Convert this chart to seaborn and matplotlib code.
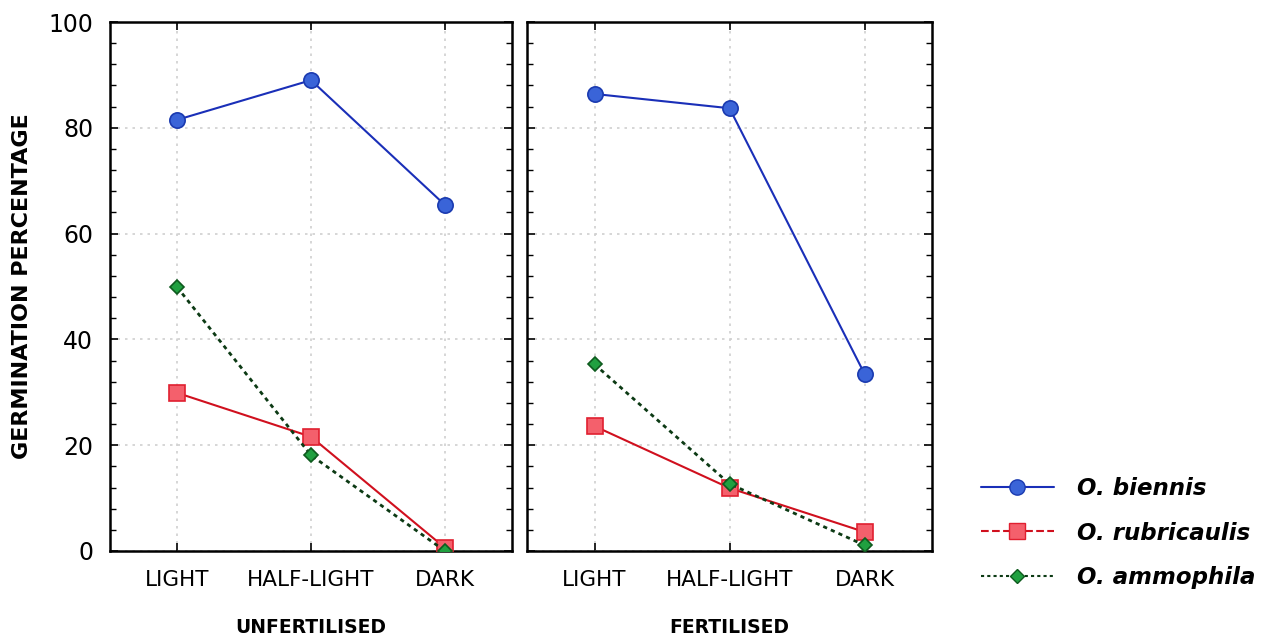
import numpy as np
import pandas as pd
import matplotlib
matplotlib.use('Agg')
import matplotlib.pyplot as plt
import seaborn as sns
from matplotlib.lines import Line2D
from matplotlib.ticker import MultipleLocator

sns.set_style('white')
plt.rcParams['font.family'] = ['DejaVu Sans']
plt.rcParams['text.color'] = 'black'
plt.rcParams['axes.labelcolor'] = 'black'
plt.rcParams['xtick.color'] = 'black'
plt.rcParams['ytick.color'] = 'black'

# 데이터
light = ['LIGHT', 'HALF-LIGHT', 'DARK']
species = ['O. biennis', 'O. rubricaulis', 'O. ammophila']
panels = ['UNFERTILISED', 'FERTILISED']

unfert_biennis = [81.5, 89.0, 65.4]
unfert_rubricaulis = [29.9, 21.6, 0.6]
unfert_ammophila = [49.9, 18.1, 0.0]

fert_biennis = [86.4, 83.7, 33.5]
fert_rubricaulis = [23.6, 11.9, 3.6]
fert_ammophila = [35.3, 12.7, 1.1]

rows = []
for panel, vals in zip(panels, [
        [unfert_biennis, unfert_rubricaulis, unfert_ammophila],
        [fert_biennis, fert_rubricaulis, fert_ammophila]]):
    for sp, v in zip(species, vals):
        for cat, y in zip(light, v):
            rows.append({'panel': panel, 'species': sp, 'light': cat, 'pct': y})
df = pd.DataFrame(rows)

# 스타일
styles = {
    'O. biennis': dict(color='#1a2fb8', marker='o', ls='-', lw=1.5, ms=11,
                       mfc='#3a64d8', mec='#1a3ab0'),
    'O. rubricaulis': dict(color='#d0101e', marker='s', ls='-', lw=1.5, ms=12,
                           mfc='#f4606c', mec='#e02030'),
    'O. ammophila': dict(color='#0c3a14', marker='D', ls=(0, (1.5, 1.5)), lw=2.0, ms=7,
                         mfc='#20a040', mec='#0e5a1e'),
}

fig = plt.figure(figsize=(12.68, 6.38), dpi=100)
ax1 = fig.add_axes([110 / 1268, 1 - 551 / 638, 402 / 1268, 529 / 638])
ax2 = fig.add_axes([527 / 1268, 1 - 551 / 638, 405 / 1268, 529 / 638])

for ax, panel in zip([ax1, ax2], panels):
    sub = df[df['panel'] == panel]
    for sp in species:
        s = styles[sp]
        d = sub[sub['species'] == sp]
        sns.lineplot(data=d, x='light', y='pct', ax=ax, sort=False,
                     color=s['color'], linestyle=s['ls'], linewidth=s['lw'],
                     marker=s['marker'], markersize=s['ms'],
                     markerfacecolor=s['mfc'], markeredgecolor=s['mec'],
                     markeredgewidth=1.2, zorder=3, legend=False)
    ax.set_xlim(-0.5, 2.5)
    ax.set_ylim(0, 100)
    ax.set_xticks(range(3))
    ax.set_xticklabels(light, fontsize=15.5)
    ax.yaxis.set_major_locator(MultipleLocator(20))
    ax.yaxis.set_minor_locator(MultipleLocator(4))
    ax.grid(True, which='major', color='#cfcfcf', linestyle=(0, (1.5, 3)), linewidth=1.2)
    ax.tick_params(axis='both', which='both', direction='in', left=True, right=True,
                   top=True, bottom=True, color='black')
    ax.tick_params(axis='both', which='major', length=6, width=1.2)
    ax.tick_params(axis='y', which='minor', length=4, width=1.0)
    ax.tick_params(axis='x', pad=14)
    for sp_ in ax.spines.values():
        sp_.set_color('black')
        sp_.set_linewidth(1.8)
    ax.set_xlabel(panel, fontsize=13.5, fontweight='bold', labelpad=20)
    ax.set_ylabel('')

ax1.tick_params(axis='y', labelsize=17, pad=12)
ax1.set_ylabel('GERMINATION PERCENTAGE', fontsize=16, fontweight='bold', labelpad=12)
ax2.tick_params(axis='y', labelleft=False)

# 범례
handles = []
for sp in species:
    s = styles[sp]
    ls = '--' if sp == 'O. rubricaulis' else s['ls']
    handles.append(Line2D([0], [0], color=s['color'], linestyle=ls, linewidth=1.5,
                          marker=s['marker'], markersize=s['ms'],
                          markerfacecolor=s['mfc'], markeredgecolor=s['mec']))
fig.legend(handles, species, loc='center left', bbox_to_anchor=(960 / 1268, 1 - 533 / 638),
           frameon=False, handlelength=3.2, labelspacing=0.95, handletextpad=1.0,
           prop=dict(size=16.5, weight='bold', style='italic'))

plt.savefig('out.png', dpi=100)
